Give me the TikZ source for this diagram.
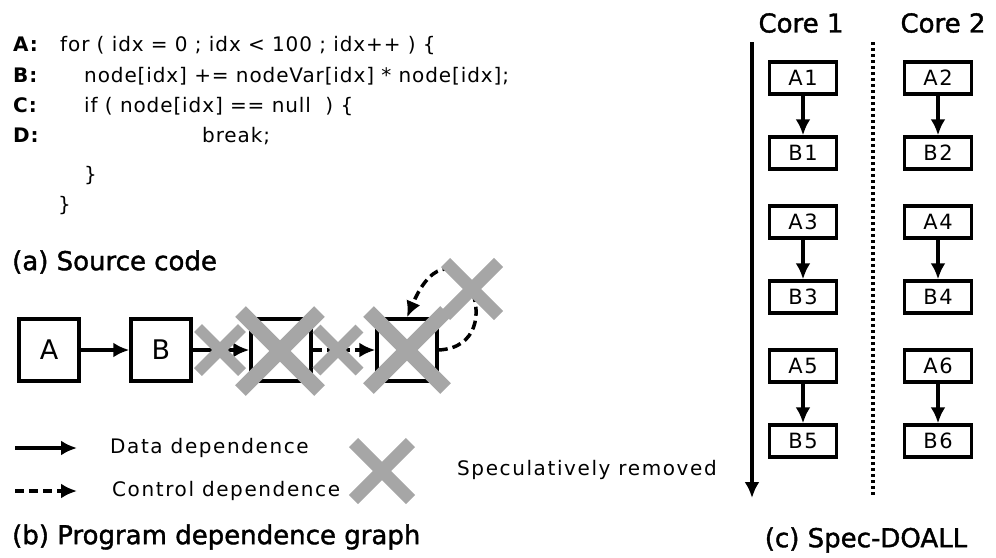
\documentclass[tikz,border=0pt]{standalone}
\usepackage{fontspec}
\setmainfont{DejaVu Sans}
\newfontfamily\codefont[LetterSpace=4.5]{DejaVu Sans}
\newfontfamily\legfont[LetterSpace=8]{DejaVu Sans}
\newfontfamily\headfont[FakeBold=1.5]{DejaVu Sans}
\usepackage{tikz}
\usetikzlibrary{arrows.meta, positioning, shapes.misc, calc}

\definecolor{xgray}{RGB}{166,166,166}

\tikzset{
    code/.style={anchor=west, inner sep=0pt, text height=14pt, text depth=4pt, font=\codefont\fontsize{20}{24}\selectfont},
    legtext/.style={anchor=west, inner sep=0pt, font=\legfont\fontsize{20}{24}\selectfont},
    caption/.style={inner sep=0pt, font=\headfont\fontsize{26}{30}\selectfont},
    blk/.style={draw, line width=3.5pt, minimum width=60pt, minimum height=62pt, inner sep=0pt, font=\normalfont\fontsize{27}{30}\selectfont},
    cblk/.style={draw, line width=3.5pt, minimum width=67pt, minimum height=32pt, inner sep=0pt, font=\legfont\fontsize{21}{24}\selectfont},
    dep/.style={line width=3.5pt, -{Latex[length=16pt,width=15pt]}},
    ctl/.style={dep, dash pattern=on 9pt off 5pt},
    xmark/.style={cross out, draw=xgray, line width=#1, inner sep=0pt},
    xmark/.default=14pt
}

\begin{document}
\begin{tikzpicture}[x=1pt, y=-1pt]
    \useasboundingbox (0,0) rectangle (996,557);

    % (a) source code
    \node[code] (la) at (13,46) {\textbf{A:}};
    \node[code] (lb) at (13,77) {\textbf{B:}};
    \node[code] (lc) at (13,107) {\textbf{C:}};
    \node[code] (ld) at (13,137) {\textbf{D:}};
    \node[code] (ca) at (60,46) {for ( idx = 0 ; idx < 100 ; idx++ ) \{};
    \node[code] (cb) at (84,77) {node[idx] += nodeVar[idx] * node[idx];};
    \node[code] (cc) at (84,107) {if ( node[idx] == null \ ) \{};
    \node[code] (cd) at (202,137) {break;};
    \node[code] (ce) at (84,176) {\}};
    \node[code] (cf) at (58,206) {\}};
    \node[caption, anchor=west] (capa) at (12,262) {(a) Source code};

    % (b) program dependence graph
    \node[blk] (A) at (49,350) {A};
    \node[blk] (B) at (161,350) {B};
    \node[blk] (C) at (281,350) {};
    \node[blk] (D) at (407,350) {};
    \draw[dep] (A) -- (B);
    \draw[dep] (B) -- (C);
    \draw[ctl] (C) -- (D);
    \draw[ctl] (D.east) .. controls +(78,-4) and +(48,-112) .. (D.north);

    \node[xmark=11pt, minimum size=33pt] (xbc) at (220,350) {};
    \node[xmark=15pt, minimum size=64pt] (xc) at (280,351) {};
    \node[xmark=11pt, minimum size=32pt] (xcd) at (338,350) {};
    \node[xmark=15pt, minimum size=62pt] (xd) at (407,350) {};
    \node[xmark=13pt, minimum size=40pt] (xloop) at (472,289) {};

    % legend
    \coordinate (d0) at (15,448);
    \coordinate (d1) at (77,448);
    \coordinate (c0) at (15,491);
    \coordinate (c1) at (77,491);
    \draw[dep] (d0) -- (d1);
    \draw[ctl] (c0) -- (c1);
    \node[legtext] (ldata) at (110,448) {Data dependence};
    \node[legtext] (lctl) at (112,491) {Control dependence};
    \node[xmark=13pt, minimum size=44pt] (xleg) at (382,471) {};
    \node[legtext] (lspec) at (457,470) {Speculatively removed};
    \node[caption, anchor=west] (capb) at (12,537) {(b) Program dependence graph};

    % (c) spec-doall
    \node[caption] (core1) at (801,23) {Core 1};
    \node[caption] (core2) at (943,23) {Core 2};
    \coordinate (t0) at (752,42);
    \coordinate (t1) at (752,498);
    \draw[dep] (t0) -- (t1);
    \coordinate (s0) at (873,42);
    \coordinate (s1) at (873,497);
    \draw[line width=3.5pt, dash pattern=on 3pt off 3pt] (s0) -- (s1);

    \foreach \i/\j/\y in {1/2/78, 3/4/222, 5/6/366} {
        \node[cblk] (A\i) at (803,\y) {A\i};
        \node[cblk] (B\i) at (803,\y+75) {B\i};
        \node[cblk] (A\j) at (938,\y) {A\j};
        \node[cblk] (B\j) at (938,\y+75) {B\j};
        \draw[dep] (A\i) -- (B\i);
        \draw[dep] (A\j) -- (B\j);
    }
    \node[caption] (capc) at (866,540) {(c) Spec-DOALL};
\end{tikzpicture}
\end{document}
